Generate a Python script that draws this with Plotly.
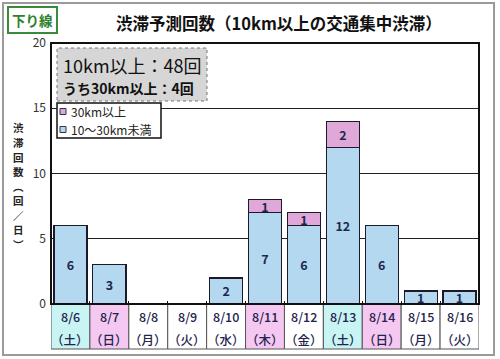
import plotly.graph_objects as go

# ---- data ----
dates = ["8/6", "8/7", "8/8", "8/9", "8/10", "8/11", "8/12", "8/13", "8/14", "8/15", "8/16"]
weekdays = ["（土）", "（日）", "（月）", "（火）", "（水）", "（木）", "（金）", "（土）", "（日）", "（月）", "（火）"]
day_type = ["sat", "hol", "", "", "", "hol", "", "sat", "hol", "", ""]
under30 = [6, 3, 0, 0, 2, 7, 6, 12, 6, 1, 1]
over30 = [0, 0, 0, 0, 0, 1, 1, 2, 0, 0, 0]
yticks = [0, 5, 10, 15, 20]
title_text = "渋滞予測回数（10km以上の交通集中渋滞）"
ytitle_chars = ["渋", "滞", "回", "数", "︵", "回", "／", "日", "︶"]

FONT = "Noto Sans CJK JP"
BLUE = "#b4d8f0"
PINK = "#e0a8d8"
CELL = {"sat": "#c8f4f4", "hol": "#f4c8f0", "": "#ffffff"}
TXT = "#1c2850"

# plot area in pixels
L, R, T, B = 51, 479, 43, 304
W, H = R - L, B - T


def px_x(x):
    return (x - L) / W


def px_y(y):
    return (B - y) / H


xs = list(range(len(dates)))

fig = go.Figure()
fig.add_trace(go.Bar(
    x=xs, y=[v if v else None for v in under30], name="10～30km未満",
    marker=dict(color=BLUE, line=dict(color="#1a1a2a", width=1.2)),
    width=0.85, text=[str(v) if v else "" for v in under30],
    textposition="inside", insidetextanchor="middle", textangle=0,
    constraintext="none",
    textfont=dict(family=FONT, size=12.5, color=TXT, weight="bold"),
    showlegend=False, hoverinfo="skip"))
fig.add_trace(go.Bar(
    x=xs, y=[v if v else None for v in over30], name="30km以上",
    marker=dict(color=PINK, line=dict(color="#1a1a2a", width=1.2)),
    width=0.85, text=[str(v) if v else "" for v in over30],
    textposition="inside", insidetextanchor="middle", textangle=0,
    constraintext="none",
    textfont=dict(family=FONT, size=12.5, color=TXT, weight="bold"),
    showlegend=False, hoverinfo="skip"))

shapes = []
annotations = []

# outer border
shapes.append(dict(type="rect", xref="paper", yref="paper",
                   x0=px_x(3), x1=px_x(494), y0=px_y(355), y1=px_y(3),
                   line=dict(color="#9a9a9a", width=2), fillcolor="rgba(0,0,0,0)", layer="below"))

# category table cells
for i, d in enumerate(dates):
    shapes.append(dict(type="rect", xref="x", yref="paper",
                       x0=i - 0.5, x1=i + 0.5, y0=px_y(349), y1=0,
                       fillcolor=CELL[day_type[i]], line=dict(color="#555555", width=1)))
    annotations.append(dict(xref="x", yref="paper", x=i, y=px_y(316), text=d,
                            showarrow=False, yanchor="middle",
                            font=dict(family=FONT, size=12.5, color="#23234d", weight=500)))
    annotations.append(dict(xref="x", yref="paper", x=i, y=px_y(339), text=weekdays[i],
                            showarrow=False, yanchor="middle",
                            font=dict(family=FONT, size=12.5, color="#23234d", weight=500)))

# plot frame
shapes.append(dict(type="rect", xref="paper", yref="paper", x0=0, x1=1, y0=0, y1=1,
                   line=dict(color="#111111", width=2)))

# header box
shapes.append(dict(type="rect", xref="paper", yref="paper",
                   x0=px_x(8), x1=px_x(57), y0=px_y(33), y1=px_y(7),
                   line=dict(color="#3a8a3a", width=2), fillcolor="#ffffff"))
annotations.append(dict(xref="paper", yref="paper", x=px_x(32.5), y=px_y(20), text="下り線",
                        showarrow=False, xanchor="center", yanchor="middle",
                        font=dict(family=FONT, size=13.5, color="#2f7f2f", weight="bold")))
annotations.append(dict(xref="paper", yref="paper", x=px_x(279), y=px_y(23), text=title_text,
                        showarrow=False, xanchor="center", yanchor="middle",
                        font=dict(family=FONT, size=16.5, color="#111111", weight="bold")))

# info box
shapes.append(dict(type="rect", xref="paper", yref="paper",
                   x0=px_x(57), x1=px_x(207), y0=px_y(101), y1=px_y(48),
                   line=dict(color="#777777", width=1, dash="dot"), fillcolor="#d6d6d6"))
annotations.append(dict(xref="paper", yref="paper", x=px_x(61), y=px_y(65),
                        text="10km以上：48回", showarrow=False, xanchor="left", yanchor="middle",
                        font=dict(family=FONT, size=18, color="#111111")))
annotations.append(dict(xref="paper", yref="paper", x=px_x(61), y=px_y(88),
                        text="うち30km以上：4回", showarrow=False, xanchor="left", yanchor="middle",
                        font=dict(family=FONT, size=14, color="#111111", weight="bold")))

# legend box (manual)
shapes.append(dict(type="rect", xref="paper", yref="paper",
                   x0=px_x(57), x1=px_x(161), y0=px_y(138), y1=px_y(103),
                   line=dict(color="#111111", width=1.5), fillcolor="#ffffff"))
for name, col, yc in [("30km以上", PINK, 111.5), ("10～30km未満", BLUE, 129.5)]:
    shapes.append(dict(type="rect", xref="paper", yref="paper",
                       x0=px_x(60), x1=px_x(66), y0=px_y(yc + 3), y1=px_y(yc - 3),
                       line=dict(color="#333344", width=1), fillcolor=col))
    annotations.append(dict(xref="paper", yref="paper", x=px_x(69), y=px_y(yc), text=name,
                            showarrow=False, xanchor="left", yanchor="middle",
                            font=dict(family=FONT, size=12, color="#222222")))

# vertical y-axis title (stacked characters)
step = 14.5
y0c = 186 - step * (len(ytitle_chars) - 1) / 2
for k, ch in enumerate(ytitle_chars):
    annotations.append(dict(xref="paper", yref="paper", x=px_x(18), y=px_y(y0c + k * step),
                            text=ch, showarrow=False, xanchor="center", yanchor="middle",
                            font=dict(family=FONT, size=10.5, color="#222222", weight="bold")))

fig.update_layout(
    width=500, height=359,
    margin=dict(l=L, r=500 - R, t=T, b=359 - B),
    paper_bgcolor="#ffffff", plot_bgcolor="#ffffff",
    barmode="stack", bargap=0.15,
    shapes=shapes, annotations=annotations,
    xaxis=dict(range=[-0.5, len(dates) - 0.5], tickvals=[i + 0.5 for i in range(len(dates) - 1)],
               ticks="inside", ticklen=3, tickcolor="#111111", showticklabels=False,
               showgrid=False, zeroline=False, showline=True, linecolor="#111111", linewidth=2,
               fixedrange=True),
    yaxis=dict(range=[0, 20], tickvals=yticks, showgrid=True, gridcolor="#222222", gridwidth=1,
               zeroline=False, ticks="", ticklabelstandoff=4,
               tickfont=dict(family=FONT, size=12, color="#333333"), fixedrange=True),
    font=dict(family=FONT),
)

fig.write_html("out.html", config={"displayModeBar": False},
               post_script="document.body.style.margin='0';document.body.style.overflow='hidden';")
